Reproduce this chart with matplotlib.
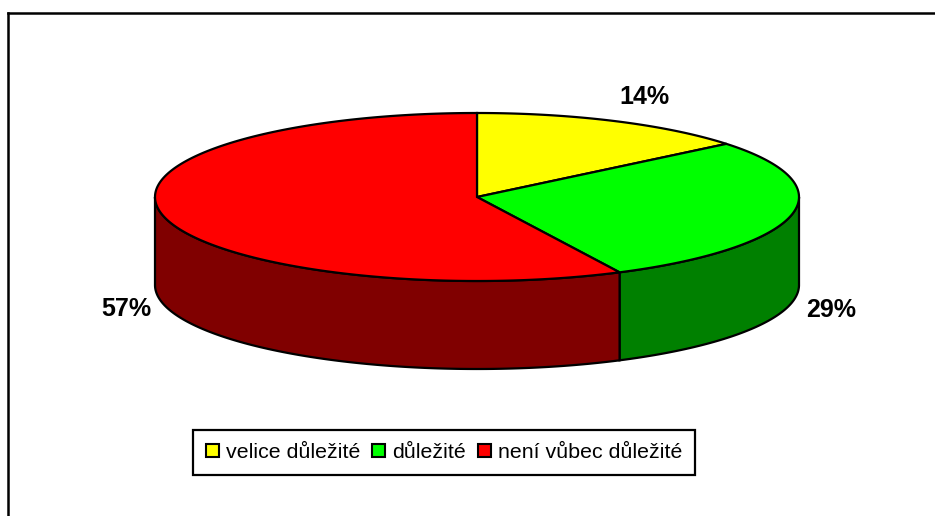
"""Recreate the 3D pie chart with legend below."""

import numpy as np
import matplotlib
matplotlib.use("Agg")
import matplotlib.pyplot as plt
from matplotlib.patches import Patch, Polygon

labels = ["velice důležité", "důležité", "není vůbec důležité"]
values = [14.1, 28.6, 57.3]
top_colors = ["#ffff00", "#00ff00", "#ff0000"]
side_colors = ["#808000", "#008000", "#800000"]

# pie geometry in pixels
CX, CY = 477, 197
RX, RY = 322, 84
DEPTH = 88


def rim(a0, a1, dy=0):
    """Points on the ellipse, angles in degrees clockwise from the top."""
    t = np.radians(np.linspace(a0, a1, 200))
    return np.column_stack([CX + RX * np.sin(t), CY - RY * np.cos(t) + dy])


plt.rcParams["font.family"] = ["Liberation Sans", "DejaVu Sans"]
fig = plt.figure(figsize=(9.35, 5.16), dpi=100)
ax = fig.add_axes([0, 0, 1, 1])
ax.set_xlim(0, 935)
ax.set_ylim(516, 0)
ax.axis("off")

# chart frame, the right and bottom sides are cut off in the picture
ax.plot([8, 8], [516, 12.5], color="black", lw=1.8)
ax.plot([8, 935], [12.5, 12.5], color="black", lw=1.8)

angles = np.cumsum([0] + values) / sum(values) * 360

# walls, only the part facing the viewer
for i in range(len(values)):
    a0, a1 = max(angles[i], 90), min(angles[i + 1], 270)
    if a0 >= a1:
        continue
    wall = np.vstack([rim(a0, a1), rim(a0, a1, DEPTH)[::-1]])
    ax.add_patch(Polygon(wall, closed=True, fc=side_colors[i], ec="black", lw=1.6))

# top slices
for i in range(len(values)):
    top = np.vstack([[CX, CY], rim(angles[i], angles[i + 1])])
    ax.add_patch(Polygon(top, closed=True, fc=top_colors[i], ec="black", lw=1.6))

label_pos = [(644, 97), (831, 310), (126, 309)]
for v, (x, y) in zip(values, label_pos):
    ax.text(x, y, f"{v:.0f}%", ha="center", va="center", fontsize=18, fontweight="bold")

handles = [Patch(fc=c, ec="black", lw=1.5) for c in top_colors]
leg = ax.legend(handles, labels, loc="center", bbox_to_anchor=(444 / 935, 1 - 452.5 / 516),
                ncol=3, fontsize=15.4, frameon=True, fancybox=False, framealpha=1,
                edgecolor="black", handlelength=0.6, handleheight=0.6,
                handletextpad=0.32, columnspacing=0.58, borderpad=0.6, borderaxespad=0)
leg.get_frame().set_linewidth(1.6)

fig.savefig("out.png", dpi=100)
